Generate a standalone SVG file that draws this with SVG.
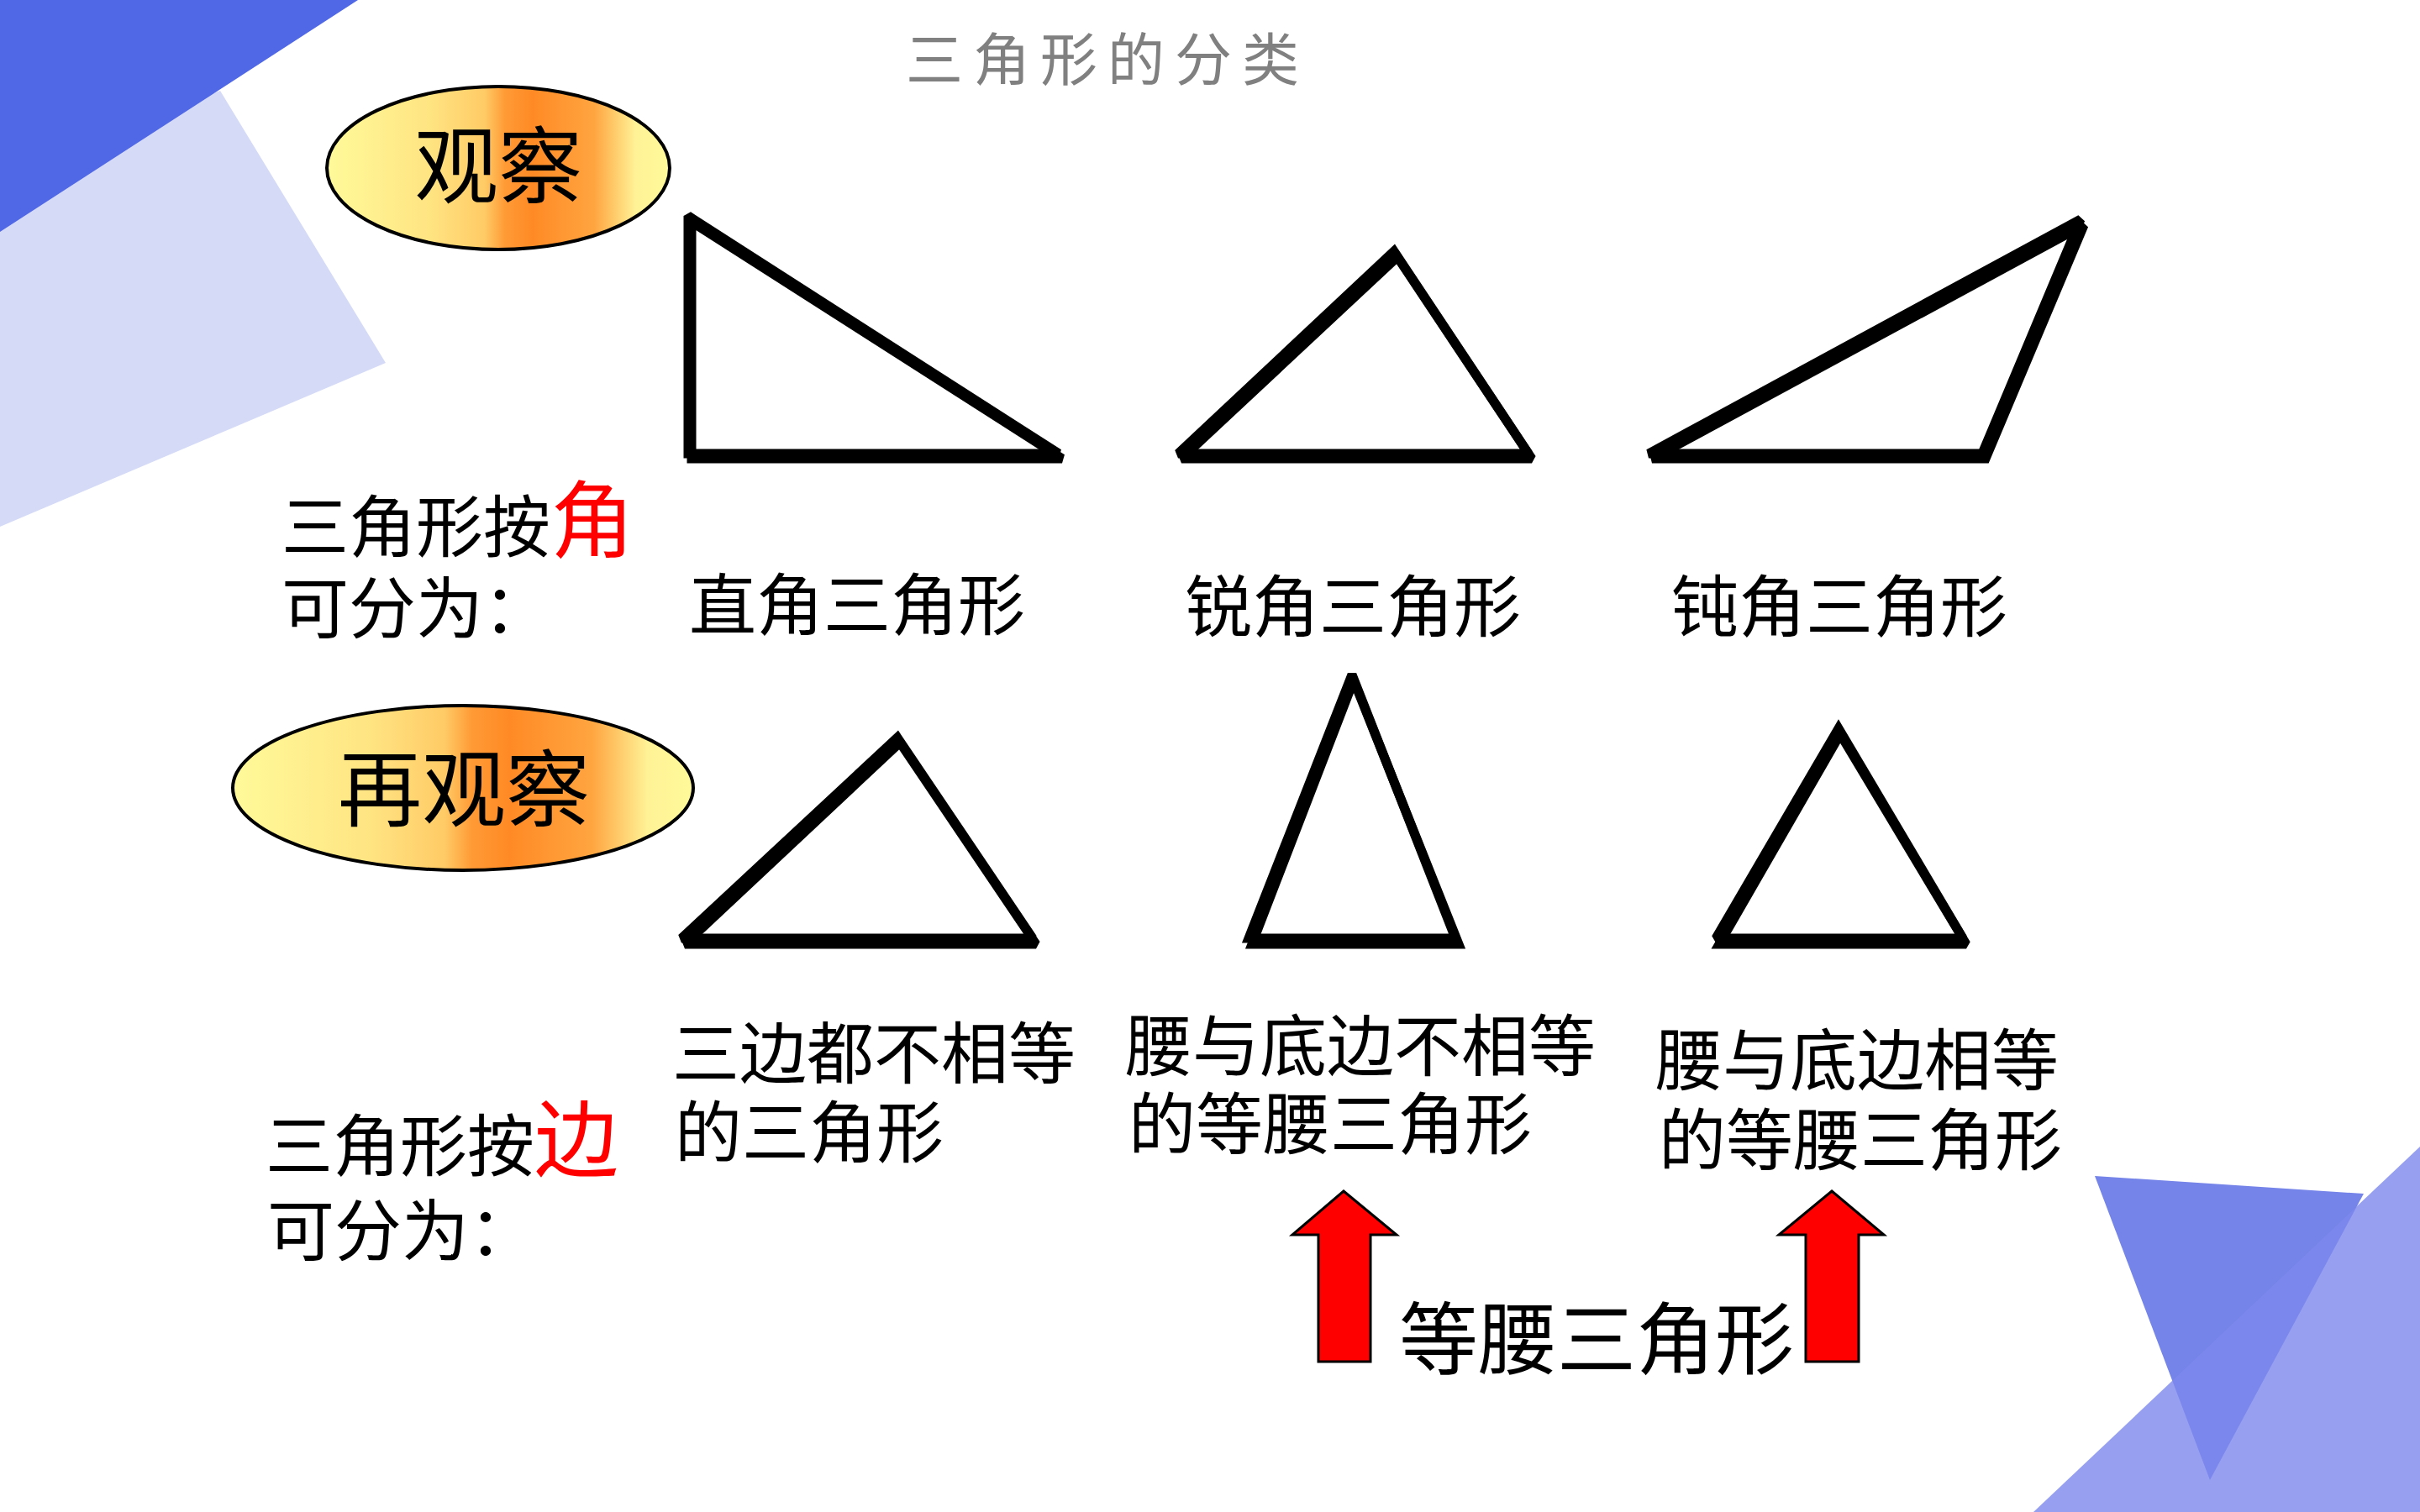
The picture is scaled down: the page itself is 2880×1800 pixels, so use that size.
<svg xmlns="http://www.w3.org/2000/svg" width="2880" height="1800" viewBox="0 0 2880 1800">
<defs>
<linearGradient id="gold" x1="0" y1="0" x2="1" y2="0">
<stop offset="0" stop-color="#FFFA9A"/>
<stop offset="0.3" stop-color="#FFE482"/>
<stop offset="0.46" stop-color="#FFCB66"/>
<stop offset="0.52" stop-color="#FF9A35"/>
<stop offset="0.6" stop-color="#FF8A25"/>
<stop offset="0.78" stop-color="#FFA540"/>
<stop offset="0.9" stop-color="#FFF296"/>
<stop offset="1" stop-color="#FFFA9A"/>
</linearGradient>
</defs>
<style>
.t{font-family:"Noto Sans CJK SC","Noto Sans",sans-serif;fill:#000}
.m{font-size:80px}
.red{fill:#FF0000}
.tri{fill:none;stroke:#000;stroke-width:11;stroke-linejoin:miter;stroke-miterlimit:2}
.sh{fill:none;stroke:#000;stroke-width:11;stroke-linejoin:miter;stroke-miterlimit:2}
.ell{fill:url(#gold);stroke:#000;stroke-width:4}
.arrow{fill:#FF0000;stroke:#000;stroke-width:3}
</style>
<rect width="2880" height="1800" fill="#FFFFFF"/>
<g id="background">
<polygon points="0,627 459,432 262,108 0,200" fill="#D5DAF7"/>
<polygon points="0,0 426,0 0,276" fill="#5068E6"/>
<polygon points="2493,1400 2813,1421 2630,1762" fill="#7584E8"/>
<polygon points="2420,1800 2880,1365 2880,1800" fill="#7D88EC" fill-opacity="0.8"/>
</g>
<g id="title">
<text class="t" x="1078" y="96" font-size="68" letter-spacing="12" style="fill:#808080">三角形的分类</text>
</g>
<g id="observe1">
<ellipse class="ell" cx="593" cy="200" rx="204" ry="97"/>
<text class="t" x="593" y="234" font-size="100" text-anchor="middle">观察</text>
</g>
<g id="observe2">
<ellipse class="ell" cx="551" cy="938" rx="274" ry="98"/>
<text class="t" x="552" y="976" font-size="100" text-anchor="middle">再观察</text>
</g>
<g id="tri-right">
<polygon class="sh" points="823,264 1264,546 823,546"/>
<polygon class="tri" points="819,257 1260,540 819,540"/>
</g>
<g id="tri-acute">
<polygon class="sh" points="1663,306 1823,546 1406,546"/>
<polygon class="tri" points="1659,299 1819,540 1402,540"/>
</g>
<g id="tri-obtuse">
<polygon class="sh" points="1966,546 2480,268 2363,546"/>
<polygon class="tri" points="1962,540 2476,261 2359,540"/>
</g>
<g id="tri-scalene">
<polygon class="sh" points="1071,884 1233,1124 815,1124"/>
<polygon class="tri" points="1068,878 1229,1117 811,1117"/>
</g>
<g id="tri-iso">
<polygon class="sh" points="1611,810 1736,1124 1490,1124"/>
<polygon class="tri" points="1609,803 1732,1117 1486,1117"/>
</g>
<g id="tri-equi">
<polygon class="sh" points="2190,874 2340,1124 2046,1124"/>
<polygon class="tri" points="2188,867 2336,1117 2042,1117"/>
</g>
<g id="labels-angle">
<text class="t m" x="335" y="656">三角形按<tspan class="red" font-size="100">角</tspan><tspan x="335" y="753">可分为：</tspan></text>
<text class="t m" x="820" y="749">直角三角形</text>
<text class="t m" x="1410" y="751">锐角三角形</text>
<text class="t m" x="1989" y="751">钝角三角形</text>
</g>
<g id="labels-side">
<text class="t m" x="316" y="1393">三角形按<tspan class="red" font-size="100">边</tspan><tspan x="318" y="1494">可分为：</tspan></text>
<text class="t m" x="800" y="1283">三边都不相等<tspan x="803" y="1377">的三角形</tspan></text>
<text class="t m" x="1339" y="1274">腰与底边不相等<tspan x="1343" y="1367">的等腰三角形</tspan></text>
<text class="t m" x="1970" y="1291">腰与底边相等<tspan x="1974" y="1386">的等腰三角形</tspan></text>
</g>
<g id="connectors">
<polygon class="arrow" points="1599,1418 1662,1470 1631,1470 1631,1621 1569,1621 1569,1470 1538,1470"/>
<polygon class="arrow" points="2180,1418 2242,1470 2212,1470 2212,1621 2149,1621 2149,1470 2117,1470"/>
</g>
<g id="iso-label">
<text class="t" x="1665" y="1629" font-size="94">等腰三角形</text>
</g>
</svg>
